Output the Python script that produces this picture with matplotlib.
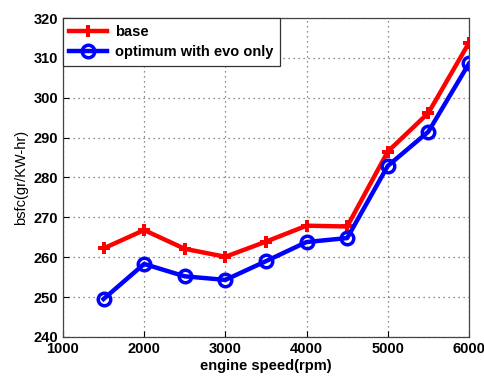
import matplotlib
matplotlib.use("Agg")
import matplotlib.pyplot as plt

rpm = [1500, 2000, 2500, 3000, 3500, 4000, 4500, 5000, 5500, 6000]
base = [262.2, 266.8, 262.1, 260.1, 263.9, 267.9, 267.7, 286.5, 296.2, 313.8]
evo_only = [249.5, 258.3, 255.2, 254.3, 259.0, 263.8, 264.8, 282.9, 291.5, 308.6]

plt.rcParams["font.family"] = ["Liberation Sans", "DejaVu Sans"]
plt.rcParams["font.weight"] = "bold"

fig = plt.figure(figsize=(4.84, 3.76), dpi=100)
ax = fig.add_axes([0.130, 0.104, 0.839, 0.848])

ax.plot(rpm, base, color="red", lw=3.2, marker="P", ms=9, mew=0,
        label="base")
ax.plot(rpm, evo_only, color="blue", lw=3.2, marker="o", ms=9, mew=2.5,
        mfc="none", label="optimum with evo only")

ax.set_xlim(1000, 6000)
ax.set_ylim(240, 320)
ax.set_xticks(range(1000, 6001, 1000))
ax.set_yticks(range(240, 321, 10))
ax.grid(True, linestyle=(0, (1, 3)), color="#666666", lw=0.9)
ax.tick_params(labelsize=10.5, direction="in", length=4, width=0.8)
for s in ax.spines.values():
    s.set_color("#444444")
    s.set_linewidth(0.9)

ax.set_xlabel("engine speed(rpm)", fontsize=10.5, fontweight="bold", labelpad=2)
ax.set_ylabel("bsfc(gr/KW-hr)", fontsize=10.5, fontweight="normal", labelpad=4)

leg = ax.legend(loc="upper left", fontsize=10.5, handlelength=2.6,
                borderaxespad=0, fancybox=False, edgecolor="#333333",
                framealpha=1, borderpad=0.45, labelspacing=0.45,
                handletextpad=0.5)
leg.get_frame().set_linewidth(0.9)

fig.savefig("out.png", dpi=100)
